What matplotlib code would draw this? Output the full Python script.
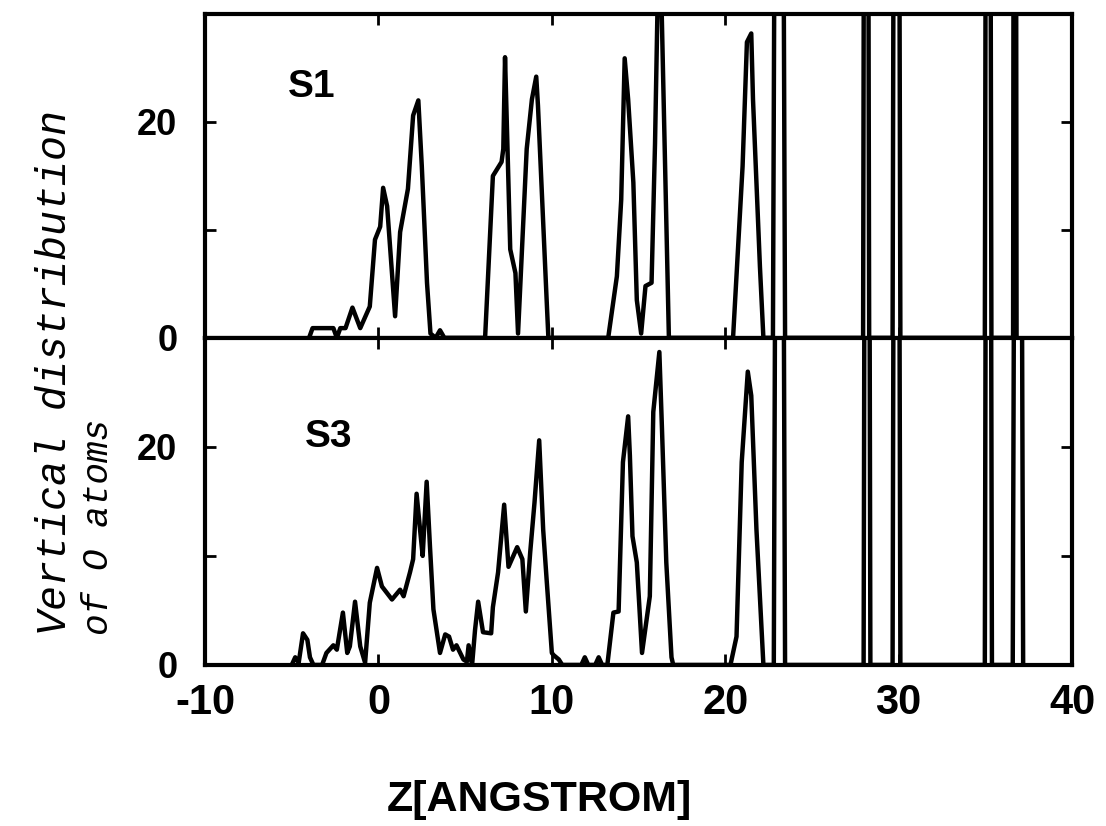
import matplotlib
matplotlib.use("Agg")
import matplotlib.pyplot as plt

plt.rcParams["axes.unicode_minus"] = False

# vertical distribution of O atoms along z, sample S1
z_s1 = [-4.0, -3.8, -2.6, -2.4, -2.2, -1.9, -1.5, -1.05, -0.5, -0.2, 0.1, 0.27, 0.5,
        0.96, 1.25, 1.7, 2.0, 2.3, 2.5, 2.8, 3.0, 3.3, 3.55, 3.8,
        6.15, 6.6, 7.1, 7.2, 7.3, 7.6, 7.9, 8.05, 8.55, 8.85, 9.1, 9.2, 9.7, 9.8,
        13.25, 13.75, 14.0, 14.2, 14.4, 14.7, 14.9, 15.15, 15.4, 15.75, 15.95, 16.2, 16.75,
        20.45, 21.0, 21.25, 21.5, 21.6, 22.0, 22.2,
        22.75, 23.1, 23.45, 27.95, 28.12, 28.3, 29.65, 29.87, 30.1,
        34.97, 35.16, 35.35, 36.6, 36.7, 36.8]
n_s1 = [0, 0.9, 0.9, 0, 0.9, 0.9, 2.8, 0.9, 2.9, 9.1, 10.3, 13.9, 12.2,
        2.0, 9.8, 13.8, 20.6, 22.0, 15.9, 5.1, 0.4, 0, 0.7, 0,
        0, 15.0, 16.3, 17.5, 26.0, 8.2, 6.0, 0.4, 17.5, 22.1, 24.2, 21.5, 3.5, 0,
        0, 5.7, 12.8, 25.9, 22.1, 14.4, 3.5, 0.4, 4.8, 5.1, 18.0, 40.0, 0,
        0, 15.9, 27.4, 28.2, 22.1, 6.6, 0,
        0, 150, 0, 0, 150, 0, 0, 150, 0,
        0, 150, 0, 0, 150, 0]

# sample S3
z_s3 = [-5.0, -4.8, -4.6, -4.35, -4.1, -3.95, -3.75, -3.25, -3.0, -2.6, -2.4, -2.05,
        -1.8, -1.65, -1.35, -1.05, -0.77, -0.5, -0.08, 0.2, 0.78, 1.25, 1.45, 1.82,
        2.0, 2.2, 2.4, 2.55, 2.78, 2.97, 3.17, 3.55, 3.85, 4.07, 4.3, 4.5, 4.9, 5.1,
        5.2, 5.4, 5.57, 5.75, 6.03, 6.5, 6.6, 6.9, 7.25, 7.5, 8.0, 8.3, 8.5, 8.75,
        9.0, 9.27, 9.5, 9.7, 10.0, 10.1, 10.4, 10.6, 11.7, 11.9, 12.1, 12.5, 12.7,
        12.9, 13.2, 13.55, 13.85, 14.1, 14.4, 14.5, 14.65, 14.9, 15.2, 15.65, 15.85,
        16.2, 16.35, 16.6, 16.9, 17.0, 20.3, 20.65, 20.95, 21.3, 21.5, 21.8, 22.2,
        22.8, 23.12, 23.45, 27.98, 28.17, 28.37, 29.65, 29.87, 30.1,
        34.97, 35.17, 35.38, 36.58, 36.88, 37.18]
n_s3 = [0, 0.7, 0.2, 2.9, 2.3, 0.7, 0, 0, 1.1, 1.8, 1.4, 4.8,
        1.1, 1.7, 5.8, 1.7, 0.2, 5.7, 8.9, 7.2, 6.0, 6.9, 6.3, 8.5,
        9.7, 15.7, 12.4, 10.0, 16.8, 10.9, 5.1, 1.1, 2.8, 2.6, 1.4, 1.8, 0.5, 0.3,
        1.8, 0, 3.2, 5.8, 3.0, 2.9, 5.3, 8.5, 14.7, 9.0, 10.8, 9.7, 4.9, 10.3,
        14.9, 20.6, 12.4, 7.8, 1.1, 0.9, 0.5, 0, 0, 0.7, 0, 0, 0.7,
        0, 0, 4.8, 4.9, 18.6, 22.8, 19.2, 11.8, 9.4, 1.1, 6.3, 23.2,
        28.7, 21.7, 9.4, 0.7, 0, 0, 2.6, 18.6, 26.9, 24.7, 12.4, 0,
        0, 150, 0, 0, 150, 0, 0, 150, 0,
        0, 150, 0, 0, 150, 0]

samples = [("S1", z_s1, n_s1, 22.3, -5.2), ("S3", z_s3, n_s3, 20.0, -4.23)]
xticks = [-10, 0, 10, 20, 30, 40]
yticks = [0, 10, 20]
ytick_labels = ["0", "", "20"]

fig = plt.figure(figsize=(11.06, 8.26), dpi=100)
left, right = 0.1854, 0.9693
ax_top = fig.add_axes([left, 0.591, right - left, 0.983 - 0.591])
ax_bot = fig.add_axes([left, 0.195, right - left, 0.591 - 0.195], sharex=ax_top)

for ax, (name, z, n, ty, tx) in zip([ax_top, ax_bot], samples):
    ax.plot(z, n, color="black", lw=3.2, solid_joinstyle="round")
    ax.set_xlim(-10, 40)
    ax.set_ylim(0, 30)
    ax.set_xticks(xticks)
    ax.set_yticks(yticks)
    ax.set_yticklabels(ytick_labels, fontfamily="Liberation Sans",
                       fontweight="bold", fontsize=26)
    ax.tick_params(direction="in", length=8, width=2, top=True, right=True, pad=20)
    for sp in ax.spines.values():
        sp.set_linewidth(3)
    ax.text(tx, ty, name, fontfamily="Liberation Sans", fontweight="bold",
            fontsize=28, ha="left", va="baseline")

ax_top.tick_params(labelbottom=False)
ax_bot.tick_params(axis="x", pad=13)
for lab in ax_bot.get_xticklabels():
    lab.set_fontfamily("Liberation Sans")
    lab.set_fontweight("bold")
    lab.set_fontsize(30)

fig.text(539 / 1106, 1 - 800 / 826, "Z[ANGSTROM]", fontfamily="Liberation Sans",
         fontweight="bold", fontsize=31, ha="center", va="center")

# hand-written axis title
hand = dict(fontfamily="Liberation Mono", style="italic", rotation=90,
            rotation_mode="anchor", ha="left", va="center", color="black")
fig.text(55 / 1106, 1 - 635 / 826, "Vertical distribution", fontsize=30, **hand)
fig.text(98 / 1106, 1 - 635 / 826, "of O atoms", fontsize=26, **hand)

fig.savefig("out.png", dpi=100)
